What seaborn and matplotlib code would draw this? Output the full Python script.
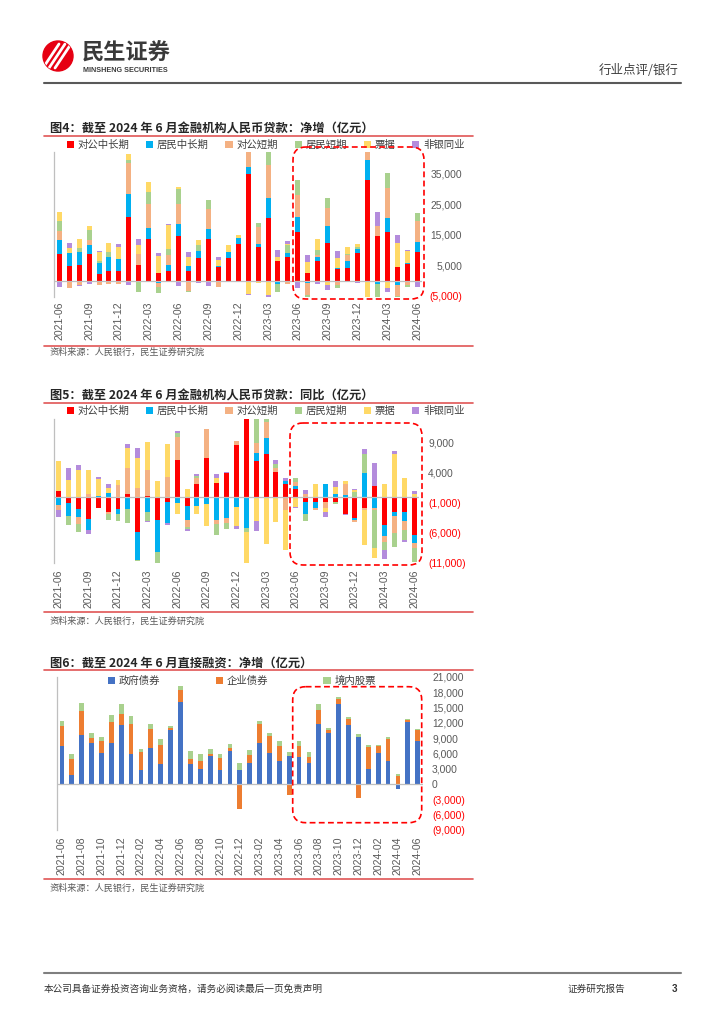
"""
Loan and direct-financing monthly charts (page 3 of a bank sector note).
Stacked bars built with seaborn, page furniture drawn on a pixel overlay.
"""

import numpy as np
import pandas as pd
import matplotlib
matplotlib.use("Agg")
import matplotlib.pyplot as plt
from matplotlib.patches import Patch, FancyBboxPatch, Circle
import seaborn as sns

sns.set_style("white")
plt.rcParams["font.family"] = ["Liberation Sans", "Noto Sans CJK SC"]
plt.rcParams["axes.unicode_minus"] = False

W, H = 724, 1024
CJK = ["Noto Sans CJK SC", "DejaVu Sans"]

# ============================================================
# DATA (亿元)
# ============================================================
months = list(pd.period_range("2021-06", "2024-06", freq="M").strftime("%Y-%m"))

loan_names = ["对公中长期", "居民中长期", "对公短期", "居民短期", "票据", "非银同业"]
loan_colors = ["#FF0000", "#00B0F0", "#F4B183", "#A9D18E", "#FFD966", "#B48CDC"]

# 图4 net increase
corp_long_net = [8600, 4900, 5100, 8600, 2200, 3300, 3300, 20900, 5000, 13500, 2600, 3200, 14500,
                 3300, 7300, 13500, 4600, 7300, 12000, 34900, 11100, 20600, 6500, 7800, 16000,
                 2600, 6500, 12400, 3700, 4200, 9000, 33000, 14500, 16000, 4600, 5600, 9500]
house_long_net = [4700, 4000, 4300, 3000, 3500, 4600, 3700, 7500, -500, 3600, -600, 1900, 4100,
                  1600, 2500, 3400, 200, 2200, 1850, 2300, 800, 6400, -1200, 1400, 4700,
                  -700, 1300, 5400, 600, 2300, 1300, 6300, -1000, 4600, -1500, 200, 3300]
corp_short_net = [3000, -2500, -1300, 1700, -1300, -1000, -1200, 10100, 3700, 8100, -1600, 3300, 6600,
                  -3500, 0, 6400, -1900, 0, 0, 9000, 5500, 10600, 0, -900, 7300,
                  -4000, 500, 5800, -1500, 1800, -500, 9000, 3400, 9800, -3500, -1400, 6800]
house_short_net = [3300, 0, 1400, 3300, 700, 1500, 200, 900, -3300, 3900, -1700, 2000, 4700,
                   -200, 1800, 3200, -200, -300, -500, 300, 1600, 5000, -2400, 2400, 4900,
                   -1400, 1800, 3300, -1000, 300, 600, 3000, -4300, 4900, -3600, -500, 2400]
bill_net = [2700, 1700, 2900, 1400, 3000, 2900, 3900, 2100, 3000, 3000, 5400, 7700, 600,
            2900, 1800, 0, 2000, 2000, 1100, -4300, -700, -4500, 1300, 500, -500,
            3600, 3600, -1300, 3100, 2400, 1200, -5200, 0, -2300, 7600, 3900, -400]
nonbank_net = [-2000, 1800, -500, -900, 200, 100, 800, -1300, 1800, -500, 900, 400, -1600,
               1600, -600, -1800, 1000, 0, 0, -500, 0, -900, 2200, 800, -2000,
               2200, -900, -1700, 2300, 0, -300, 1500, 4400, -1500, 2700, 200, -1600]

# 图5 year-on-year change
corp_long_yoy = [950, -1100, -2050, -3700, -1950, -2600, -2100, 450, -5950, 200, -3950, -950, 6100,
                 -1550, 2050, 6500, 2350, 3900, 8600, 13050, 5950, 7050, 4050, 2050, 1300,
                 -830, -830, -950, -830, -2950, -3600, -1950, 1850, -4700, -2600, -2600, -6300]
house_long_yoy = [-1300, -2050, -1300, -1800, 150, 700, -830, -2050, -4600, -2500, -5200, -3500, -1000,
                  -2350, -1500, -1200, -3900, -3600, -1650, -5200, 1300, 2800, -270, 550, 550,
                  -2000, -1100, 2050, 400, 270, -280, 4000, -1950, -1850, -550, -1400, -1400]
corp_short_yoy = [-950, 0, -1150, 450, 0, -300, 1950, 4400, 1500, 4300, 0, 3300, 3900,
                  -1100, 1100, 4800, -700, -830, 670, 1000, 1650, 2650, 780, -2200, 550,
                  400, -280, -1000, 0, 1800, -280, -280, -280, -1050, -2950, -1550, -830]
house_short_yoy = [0, -1550, -1400, 0, 0, -950, -1100, -2300, -200, -1550, -1950, 0, 670,
                   -400, 330, 0, -1700, -950, 0, -670, 4900, 1100, 550, 0, 670,
                   -1300, 0, 0, -450, 0, 830, 3200, -6400, -1300, -2200, -1650, -2300]
bill_yoy = [5000, 2800, 4450, 4000, 2800, 700, 780, 3200, 4900, 4700, 2600, 5550, -1950,
            1300, -1400, -3600, 830, 0, -3200, -5300, -4050, -7950, -3900, -6700, -1650,
            100, 2200, -550, 1300, 600, 280, -5800, -1650, 2100, 7050, 3050, 390]
nonbank_yoy = [-1100, 2050, 830, -700, 300, 800, 0, 670, 1650, -200, 0, -200, 330,
               -330, 330, 0, 560, 280, -600, 0, -1650, 200, 720, 450, -300,
               600, 0, -950, 950, -100, 170, 830, 3700, -1500, 550, -280, 550]

# 图6 direct financing
fin_names = ["政府债券", "企业债券", "境内股票"]
fin_colors = ["#4472C4", "#ED7D31", "#A9D18E"]
gov_bond = [7500, 1800, 9700, 8000, 6050, 8150, 11600, 6000, 2750, 7150, 4000, 10600, 16150,
            4000, 3050, 5550, 2800, 6500, 2800, 4150, 8150, 6050, 4550, 5550, 5400,
            4100, 11800, 9950, 15700, 11500, 9300, 3000, 6050, 4550, -900, 12200, 8500]
corp_bond = [3900, 3050, 4600, 1100, 2400, 4100, 2150, 5800, 3650, 3650, 3600, 450, 2300,
             980, 1500, 400, 2400, 650, -4900, 1550, 3650, 3400, 2950, -2100, 2150,
             1300, 2750, 650, 980, 1350, -2600, 4350, 1430, 4230, 1700, 330, 2100]
equity = [1050, 1050, 1600, 850, 850, 1250, 1950, 1500, 520, 980, 1250, 260, 780,
          1500, 1300, 980, 780, 720, 1450, 980, 590, 590, 1050, 850, 910,
          850, 1170, 330, 450, 390, 520, 330, 130, 390, 260, 200, 260]

net_df = pd.DataFrame(dict(zip(loan_names, [corp_long_net, house_long_net, corp_short_net,
                                            house_short_net, bill_net, nonbank_net])), index=months)
yoy_df = pd.DataFrame(dict(zip(loan_names, [corp_long_yoy, house_long_yoy, corp_short_yoy,
                                            house_short_yoy, bill_yoy, nonbank_yoy])), index=months)
fin_df = pd.DataFrame(dict(zip(fin_names, [gov_bond, corp_bond, equity])), index=months)

fig = plt.figure(figsize=(W / 100, H / 100), dpi=100)


def px_rect(left, top, right, bottom):
    return [left / W, 1 - bottom / H, (right - left) / W, (bottom - top) / H]


def stacked_bars(ax, table, colors, width=0.5):
    # positives and negatives stack separately; draw tallest cumulative first
    pos = table.clip(lower=0).cumsum(axis=1)
    neg = table.clip(upper=0).cumsum(axis=1)
    for col, c in reversed(list(zip(table.columns, colors))):
        for part in (pos, neg):
            sns.barplot(x=months, y=part[col].values, color=c, saturation=1, width=width,
                        linewidth=0, errorbar=None, ax=ax)


def style_axes(ax, ylim, yticks, step, ypad, yha, xpad):
    ax.set_ylim(*ylim)
    ax.set_xlim(-0.5, len(months) - 0.5)
    ax.axhline(0, color="#BFBFBF", lw=0.9, zorder=3)
    for s in ["top", "right", "bottom"]:
        ax.spines[s].set_visible(False)
    ax.spines["left"].set_color("#BFBFBF")
    ax.spines["left"].set_linewidth(0.9)
    ax.set_xlabel("")
    ax.set_ylabel("")
    ax.patch.set_alpha(0)
    ax.set_xticks(range(len(months)))
    ax.set_xticklabels([m if i % step == 0 else "" for i, m in enumerate(months)],
                       rotation=90, fontsize=7.6, color="#595959")
    ax.tick_params(axis="x", length=0, pad=xpad)
    ax.yaxis.tick_right()
    ax.set_yticks(yticks)
    ax.set_yticklabels([f"{v:,}" if v >= 0 else f"({-v:,})" for v in yticks], fontsize=7.4)
    ax.tick_params(axis="y", length=0, pad=ypad)
    for tick, v in zip(ax.yaxis.get_major_ticks(), yticks):
        tick.label2.set_color("#FF0000" if v < 0 else "#595959")
        tick.label2.set_horizontalalignment(yha)


def add_legend(ax, names, colors, x, y, colspace):
    handles = [Patch(facecolor=c, edgecolor="none") for c in colors]
    ax.legend(handles, names, loc="center left", bbox_to_anchor=(x / W, 1 - y / H),
              bbox_transform=fig.transFigure, ncol=len(names), frameon=False,
              prop={"family": CJK, "size": 7.5}, labelcolor="#404040",
              handlelength=0.7, handleheight=0.7, handletextpad=0.35,
              columnspacing=colspace, borderpad=0, borderaxespad=0)


# ============================================================
# CHARTS
# ============================================================
ax1 = fig.add_axes(px_rect(54.3, 152, 422.1, 297))
stacked_bars(ax1, net_df, loan_colors)
style_axes(ax1, (-5300, 42000), [-5000, 5000, 15000, 25000, 35000], 3, 28.8, "right", 3.4)
add_legend(ax1, loan_names, loan_colors, 66.5, 145, 1.6)

ax2 = fig.add_axes(px_rect(53.8, 418.7, 419.1, 562.7))
stacked_bars(ax2, yoy_df, loan_colors)
style_axes(ax2, (-11000, 13000), [-11000, -6000, -1000, 4000, 9000], 3, 6.5, "left", 5.0)
add_legend(ax2, loan_names, loan_colors, 66.5, 411, 1.6)

ax3 = fig.add_axes(px_rect(57.0, 676.8, 422.6, 830.4))
stacked_bars(ax3, fin_df, fin_colors, width=0.48)
style_axes(ax3, (-9000, 21000), list(range(-9000, 21001, 3000)), 2, 6.8, "left", 4.5)
add_legend(ax3, fin_names, fin_colors, 108, 681, 5.3)

# ============================================================
# PAGE OVERLAY (pixel coordinates)
# ============================================================
ov = fig.add_axes([0, 0, 1, 1])
ov.set_xlim(0, W)
ov.set_ylim(H, 0)
ov.set_axis_off()
ov.patch.set_visible(False)

# header
logo = Circle((58, 56), 15, color="#E60012")
ov.add_patch(logo)
for dx in (0, 6, 12):
    ln, = ov.plot([43 + dx, 59 + dx], [68, 44], color="white", lw=2.0, solid_capstyle="round")
    ln.set_clip_path(logo)
ov.text(82, 53.5, "民生证券", family=CJK, fontsize=16, fontweight="bold", color="#3A3A3A", va="center")
ov.text(83, 70.5, "MINSHENG SECURITIES", fontsize=5.2, fontweight="bold", color="#3A3A3A", va="center")
ov.text(679, 70, "行业点评/银行", family=CJK, fontsize=9, color="#404040", va="center", ha="right")
ov.plot([44, 681], [83, 83], color="#595959", lw=1.5)

# chart frames, titles, sources
titles = ["图4：截至 2024 年 6 月金融机构人民币贷款：净增（亿元）",
          "图5：截至 2024 年 6 月金融机构人民币贷款：同比（亿元）",
          "图6：截至 2024 年 6 月直接融资：净增（亿元）"]
title_y = [129, 396.5, 663]
top_line = [135.7, 403.3, 670]
bottom_line = [346, 612.3, 879.3]
source_y = [352.5, 621.5, 888.5]
for t, ty, tl, bl, sy in zip(titles, title_y, top_line, bottom_line, source_y):
    ov.text(50, ty, t, family=CJK, fontsize=8.8, fontweight="bold", color="#262626", va="center")
    ov.plot([44, 473], [tl, tl], color="#E05555", lw=1.2)
    ov.plot([44, 473], [bl, bl], color="#E05555", lw=1.2)
    ov.text(50, sy, "资料来源：人民银行，民生证券研究院", family=CJK, fontsize=6.6,
            color="#595959", va="center")

# red dashed highlight boxes
for x0, y0, x1, y1 in [(293, 147, 424, 299), (290, 423, 422, 565), (292.7, 686.7, 421.7, 822.7)]:
    ov.add_patch(FancyBboxPatch((x0, y0), x1 - x0, y1 - y0, boxstyle="round,pad=0,rounding_size=13",
                                fill=False, ec="#FF0000", lw=1.2, ls=(0, (3.5, 2))))

# footer
ov.plot([44, 681], [973, 973], color="#7F7F7F", lw=1.5)
ov.text(44, 989, "本公司具备证券投资咨询业务资格，请务必阅读最后一页免责声明", family=CJK,
        fontsize=6.9, color="#333333", va="center")
ov.text(568, 989, "证券研究报告", family=CJK, fontsize=6.9, color="#333333", va="center")
ov.text(672, 989, "3", fontsize=7, fontweight="bold", color="#333333", va="center")

fig.savefig("out.png", dpi=100, facecolor="white")
print("saved out.png")
